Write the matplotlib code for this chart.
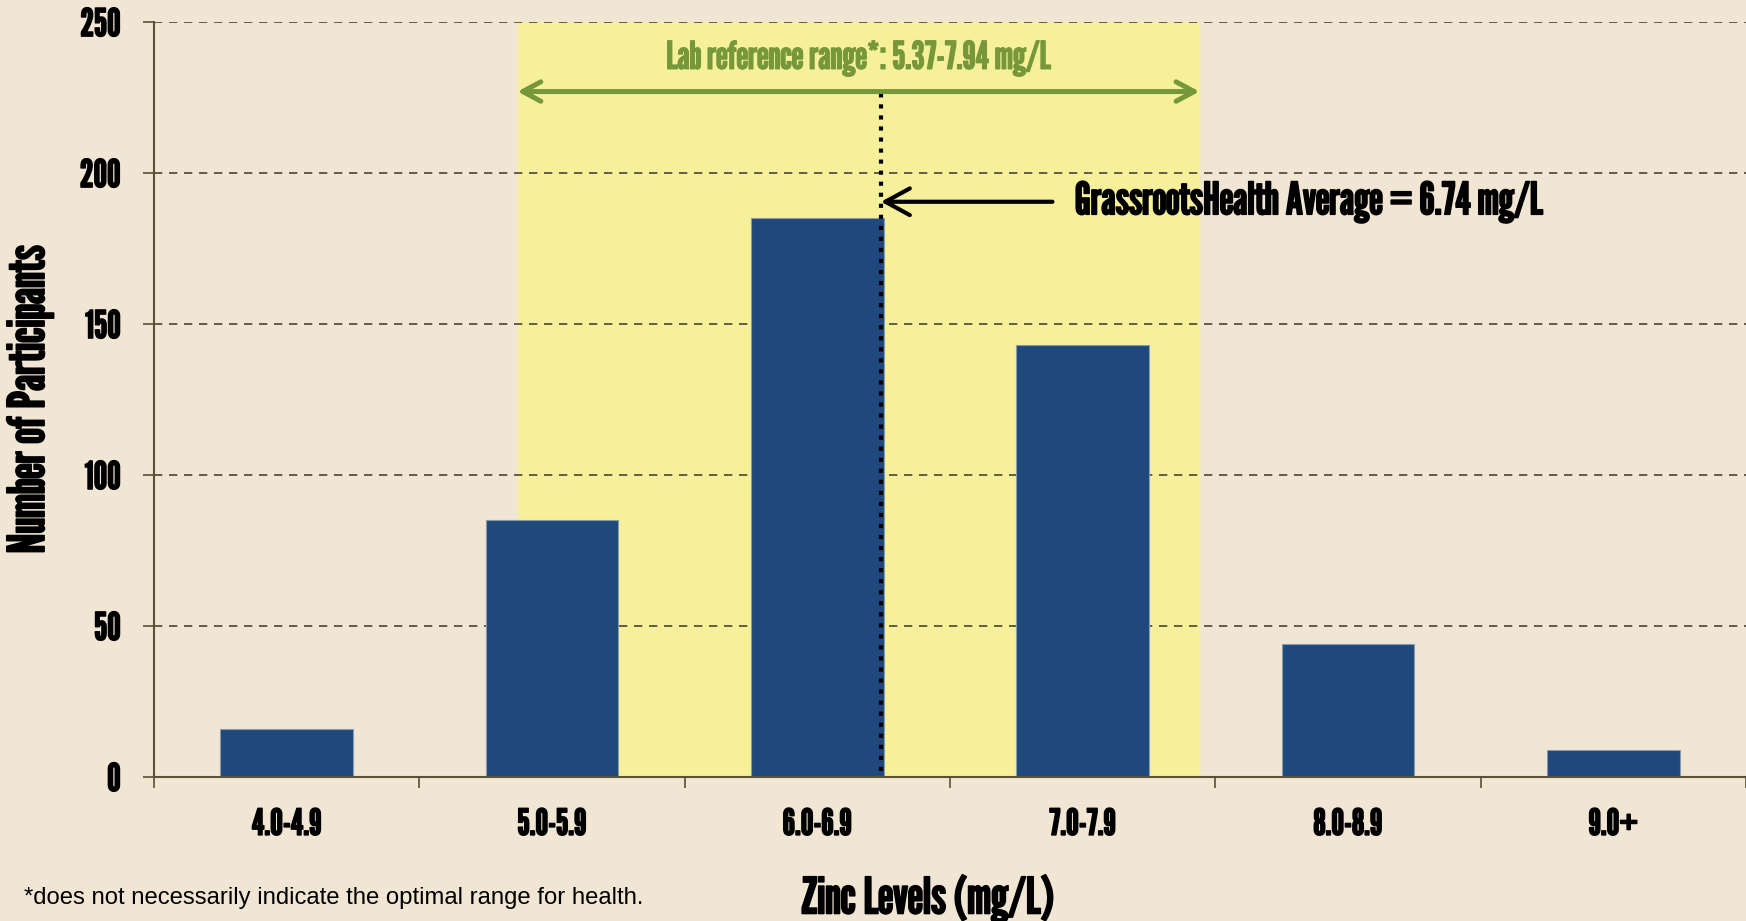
import numpy as np
import matplotlib.pyplot as plt
import matplotlib.patheffects as pe

# 数据
categories = ['4.0-4.9', '5.0-5.9', '6.0-6.9', '7.0-7.9', '8.0-8.9', '9.0+']
counts = [16, 85, 185, 143, 44, 9]
ref_low, ref_high = 5.37, 7.94   # lab reference range (mg/L)
avg_value = 6.74                 # GrassrootsHealth average (mg/L)
bin_start = 4.5                  # mg/L value that maps to position 0

bg = '#F1E6D3'
bar_color = '#1F497D'
yellow = '#F7F09A'
green = '#77983A'
axis_color = '#5A5038'

# 窄体字体
plt.rcParams['font.family'] = ['League Gothic', 'Oswald', 'DejaVu Sans']


def bold(t, color='black', w=1.2):
    # 描边让字体看起来更粗
    t.set_path_effects([pe.withStroke(linewidth=w, foreground=color)])


fig = plt.figure(figsize=(17.46, 9.21), dpi=100, facecolor=bg)
ax = fig.add_axes([0.0882, 0.1564, 0.9118, 0.8196], facecolor=bg)

x = np.arange(len(categories))
ax.set_xlim(-0.5, len(categories) - 0.5)
ax.set_ylim(0, 250)

# 参考范围背景
ax.axvspan(ref_low - bin_start, ref_high - bin_start, ymin=0, ymax=1, color=yellow, zorder=0)

# 网格
ax.set_yticks([0, 50, 100, 150, 200, 250])
ax.yaxis.grid(True, linestyle=(0, (5, 4)), color='#4A4536', linewidth=1.2, zorder=1)

ax.bar(x, counts, width=0.5, color=bar_color, edgecolor='#8A9AAE', linewidth=0.8, zorder=2)

# 平均值虚线
avg_x = avg_value - bin_start
ax.plot([avg_x, avg_x], [2, 228], color='black', linestyle=':', linewidth=3, zorder=3)

# 绿色双箭头
ax.annotate('', xy=(ref_low - bin_start, 227), xytext=(ref_high - bin_start, 227),
            arrowprops=dict(arrowstyle='<->, head_length=1.3, head_width=0.7', color=green,
                            lw=3.6, shrinkA=0, shrinkB=0), zorder=4)
t = ax.text((ref_low + ref_high) / 2 - bin_start, 238, 'Lab reference range*: 5.37-7.94 mg/L',
            color=green, fontsize=27.5, ha='center', va='center')
bold(t, green, 0.9)

# 平均值标注
t = ax.annotate('GrassrootsHealth Average = 6.74 mg/L', xy=(avg_x, 190.5), xytext=(2.97, 190.5),
                fontsize=32, ha='left', va='center', color='black',
                arrowprops=dict(arrowstyle='->, head_length=0.55, head_width=0.3', color='black',
                                lw=3, shrinkA=14, shrinkB=0), zorder=4)
bold(t, 'black', 1.2)

# 坐标轴
for s in ['top', 'right']:
    ax.spines[s].set_visible(False)
ax.spines['left'].set_color(axis_color)
ax.spines['bottom'].set_color(axis_color)
ax.spines['left'].set_linewidth(1.5)
ax.spines['bottom'].set_linewidth(1.5)

ax.set_xticks(x)
ax.set_xticklabels(categories)
ax.set_xticks(np.arange(-0.5, len(categories), 1), minor=True)
ax.tick_params(axis='x', which='major', length=0, pad=23, labelsize=26)
ax.tick_params(axis='x', which='minor', length=8, width=1.2, color=axis_color)
ax.tick_params(axis='y', length=8, width=1.2, color=axis_color, pad=16, labelsize=27.5)
for lab in ax.get_xticklabels() + ax.get_yticklabels():
    bold(lab, 'black', 1.1)

ylab = ax.set_ylabel('Number of Participants', fontsize=36.5)
ax.yaxis.set_label_coords(-0.0634, 0.5)
bold(ylab, 'black', 1.2)
xlab = ax.set_xlabel('Zinc Levels (mg/L)', fontsize=36)
ax.xaxis.set_label_coords(0.486, -0.129)
bold(xlab, 'black', 1.2)

fig.text(0.0137, 0.025, '*does not necessarily indicate the optimal range for health.',
         fontsize=17.2, family=['Liberation Sans', 'DejaVu Sans'],
         ha='left', va='center')

fig.savefig('out.png', dpi=100, facecolor=bg)
